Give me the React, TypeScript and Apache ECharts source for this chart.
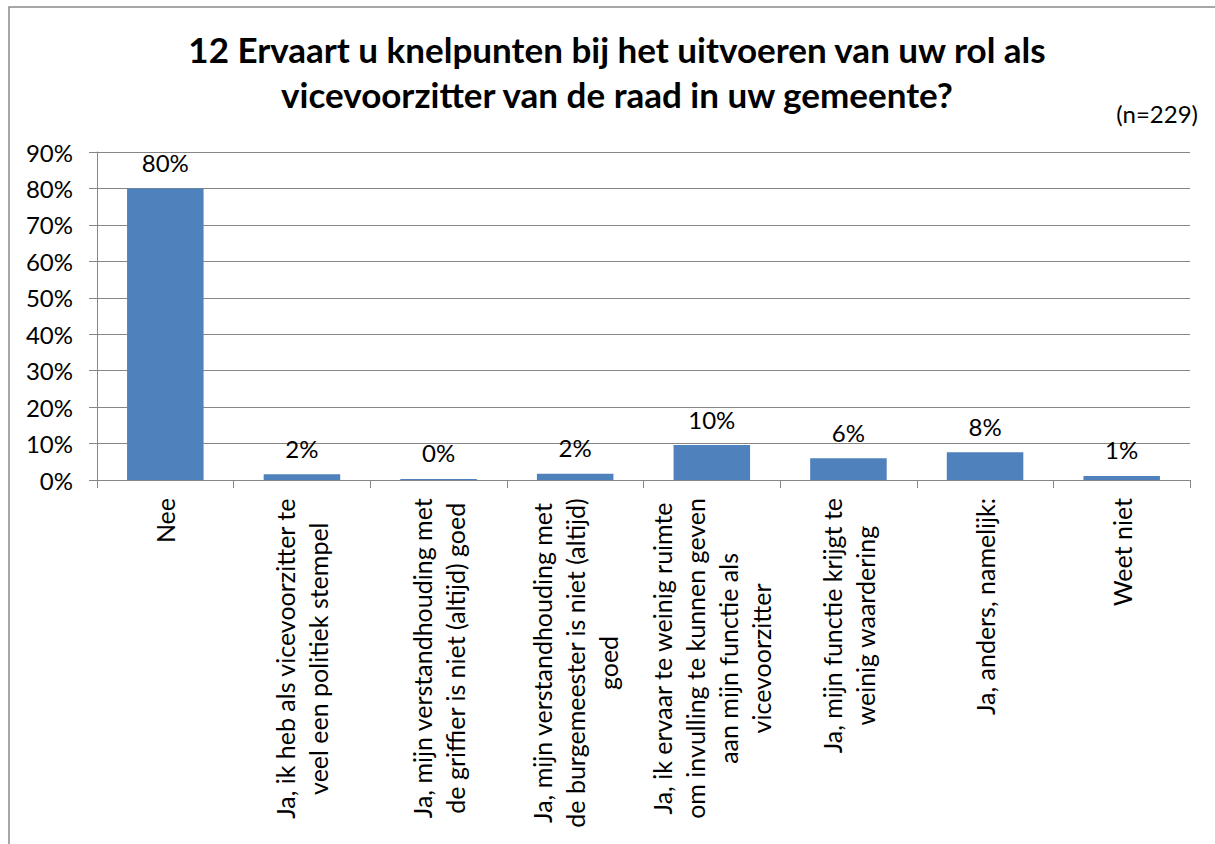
import React, { useEffect, useRef } from "react";
import * as echarts from "echarts";

const titleLines = [
  "12 Ervaart u knelpunten bij het uitvoeren van uw rol als",
  "vicevoorzitter van de raad in uw gemeente?",
];
const sampleNote = "(n=229)";

const categoryLines: string[][] = [
  ["Nee"],
  ["Ja, ik heb als vicevoorzitter te", "veel een politiek stempel"],
  ["Ja, mijn verstandhouding met", "de griffier is niet (altijd) goed"],
  ["Ja, mijn verstandhouding met", "de burgemeester is niet (altijd)", "goed"],
  ["Ja, ik ervaar te weinig ruimte", "om invulling te kunnen geven", "aan mijn functie als", "vicevoorzitter"],
  ["Ja, mijn functie krijgt te", "weinig waardering"],
  ["Ja, anders, namelijk:"],
  ["Weet niet"],
];
const categories = categoryLines.map((l) => l.join("\n"));

const percentages = [80.0, 1.6, 0.3, 1.7, 9.6, 6.0, 7.6, 1.1];

const yMin = 0;
const yMax = 90;
const yInterval = 10;

const FONT = "Lato";

export default function App() {
  const ref = useRef<HTMLDivElement>(null);
  useEffect(() => {
    if (!ref.current) return;
    const chart = echarts.init(ref.current, null, { renderer: "svg" });
    chart.setOption({
      animation: false,
      backgroundColor: "#ffffff",
      textStyle: { fontFamily: FONT, color: "#000" },
      title: {
        text: titleLines.join("\n"),
        left: 612,
        top: 21,
        textAlign: "center",
        textStyle: {
          fontFamily: FONT,
          fontWeight: "bold",
          fontSize: 35,
          lineHeight: 45,
          color: "#000",
        },
      },
      graphic: [
        {
          type: "rect",
          shape: { x: 9, y: 7, width: 1400, height: 1000 },
          style: { fill: "none", stroke: "#8a8a8a", lineWidth: 1.5 },
          silent: true,
        },
        {
          type: "text",
          right: 17,
          top: 101,
          style: { text: sampleNote, font: `24px ${FONT}`, fill: "#000" },
        },
      ],
      grid: { left: 97, right: 25, top: 152, bottom: 364, containLabel: false },
      xAxis: {
        type: "category",
        data: categories,
        axisLine: { show: true, lineStyle: { color: "#868686", width: 1 } },
        axisTick: { show: true, alignWithLabel: false, length: 8, lineStyle: { color: "#868686" } },
        axisLabel: {
          interval: 0,
          rotate: 90,
          margin: 18,
          color: "#000",
          fontFamily: FONT,
          fontSize: 25,
          formatter: (v: string) => v.split("\n").map((l) => `{c|${l}}`).join("\n"),
          rich: {
            c: { align: "center", fontFamily: FONT, fontSize: 25, lineHeight: 33, color: "#000" },
          },
        },
      },
      yAxis: {
        type: "value",
        min: yMin,
        max: yMax,
        interval: yInterval,
        axisLine: { show: true, lineStyle: { color: "#868686", width: 1 } },
        axisTick: { show: true, length: 8, lineStyle: { color: "#868686" } },
        splitLine: { show: true, lineStyle: { color: "#868686", width: 1 } },
        axisLabel: {
          formatter: (v: number) => `${v}%`,
          margin: 24,
          color: "#000",
          fontFamily: FONT,
          fontSize: 24,
        },
      },
      series: [
        {
          type: "bar",
          data: percentages,
          barCategoryGap: "44%",
          itemStyle: { color: "#4f81bd" },
          label: {
            show: true,
            position: "top",
            distance: 14,
            color: "#000",
            fontFamily: FONT,
            fontSize: 24,
            formatter: (p: any) => `${Math.round(p.value)}%`,
          },
        },
      ],
    });
    return () => chart.dispose();
  }, []);
  return (
    <div
      ref={ref}
      style={{ position: "absolute", left: 0, top: 0, width: 1215, height: 844 }}
    />
  );
}
